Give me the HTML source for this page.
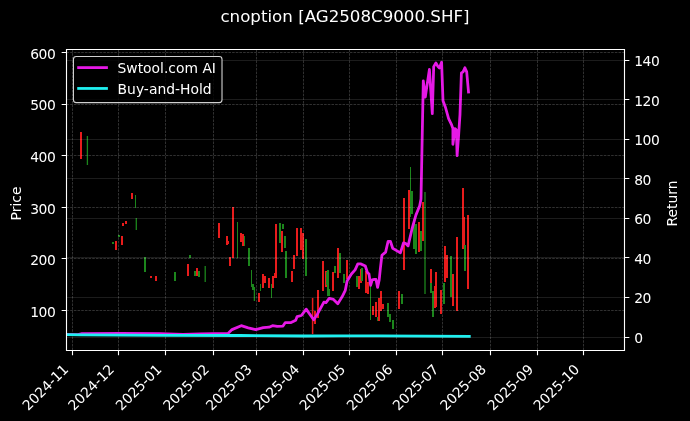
<!DOCTYPE html><html><head><meta charset="utf-8"><title>cnoption [AG2508C9000.SHF]</title><style>html,body{margin:0;padding:0;background:#000;overflow:hidden}svg{display:block}</style></head><body><svg width="690" height="421" viewBox="0 0 690 421">
<rect x="0" y="0" width="690" height="421" fill="#000"/>
<defs><clipPath id="ax"><rect x="66.5" y="49.5" width="558.0" height="301.0"/></clipPath></defs>
<g clip-path="url(#ax)">
<rect x="80" y="132" width="2.00" height="27" fill="#e81c1c"/>
<rect x="86.75" y="136" width="1.30" height="29" fill="#1c861c"/>
<rect x="112" y="242" width="2.00" height="2" fill="#1c861c"/>
<rect x="115" y="241" width="2.00" height="9" fill="#e81c1c"/>
<rect x="118" y="235" width="2.00" height="2" fill="#1c861c"/>
<rect x="121" y="236" width="2.00" height="9" fill="#e81c1c"/>
<rect x="122" y="223" width="2.00" height="3" fill="#e81c1c"/>
<rect x="125" y="221" width="2.00" height="3" fill="#e81c1c"/>
<rect x="131" y="193" width="2.00" height="6" fill="#e81c1c"/>
<rect x="135" y="195" width="1.00" height="13" fill="#1c861c"/>
<rect x="135.65" y="218" width="1.30" height="12" fill="#1c861c"/>
<rect x="144" y="257" width="2.00" height="15" fill="#1c861c"/>
<rect x="150" y="276" width="2.00" height="2" fill="#e81c1c"/>
<rect x="155" y="276" width="2.00" height="5" fill="#e81c1c"/>
<rect x="174" y="272" width="2.00" height="9" fill="#1c861c"/>
<rect x="187" y="264" width="2.00" height="12" fill="#e81c1c"/>
<rect x="189" y="255" width="2.00" height="3" fill="#1c861c"/>
<rect x="194" y="271" width="2.00" height="5" fill="#1c861c"/>
<rect x="196" y="268" width="2.00" height="8" fill="#e81c1c"/>
<rect x="198" y="271" width="2.00" height="6" fill="#1c861c"/>
<rect x="204.55" y="266" width="1.30" height="16" fill="#1c861c"/>
<rect x="218" y="223" width="2.00" height="15" fill="#e81c1c"/>
<rect x="226" y="236" width="2.00" height="9" fill="#e81c1c"/>
<rect x="227" y="241" width="2.00" height="3" fill="#e81c1c"/>
<rect x="232" y="207" width="2.00" height="51" fill="#e81c1c"/>
<rect x="229" y="257" width="2.00" height="9" fill="#e81c1c"/>
<rect x="237" y="222" width="1.00" height="36" fill="#1c861c"/>
<rect x="240" y="233" width="2.00" height="9" fill="#e81c1c"/>
<rect x="242" y="234" width="2.00" height="12" fill="#e81c1c"/>
<rect x="244" y="236" width="1.00" height="10" fill="#1c861c"/>
<rect x="248" y="248" width="2.00" height="18" fill="#1c861c"/>
<rect x="251" y="270" width="1.00" height="17" fill="#1c861c"/>
<rect x="252" y="284" width="2.00" height="6" fill="#1c861c"/>
<rect x="253.75" y="287" width="1.30" height="14" fill="#1c861c"/>
<rect x="258" y="293" width="2.00" height="9" fill="#e81c1c"/>
<rect x="260" y="284" width="1.00" height="7" fill="#1c861c"/>
<rect x="262" y="274" width="2.00" height="14" fill="#e81c1c"/>
<rect x="264" y="276" width="2.00" height="7" fill="#e81c1c"/>
<rect x="268" y="278" width="2.00" height="10" fill="#e81c1c"/>
<rect x="271" y="284" width="1.00" height="14" fill="#1c861c"/>
<rect x="272" y="276" width="2.00" height="12" fill="#e81c1c"/>
<rect x="274" y="273" width="2.00" height="5" fill="#e81c1c"/>
<rect x="275" y="224" width="2.00" height="54" fill="#e81c1c"/>
<rect x="279" y="223" width="2.00" height="20" fill="#1c861c"/>
<rect x="281" y="231" width="2.00" height="21" fill="#e81c1c"/>
<rect x="282" y="224" width="2.00" height="5" fill="#1c861c"/>
<rect x="284" y="236" width="2.00" height="12" fill="#1c861c"/>
<rect x="285" y="251" width="2.00" height="27" fill="#1c861c"/>
<rect x="291" y="271" width="2.00" height="11" fill="#e81c1c"/>
<rect x="293" y="255" width="2.00" height="14" fill="#e81c1c"/>
<rect x="296" y="228" width="2.00" height="28" fill="#e81c1c"/>
<rect x="300" y="228" width="2.00" height="22" fill="#e81c1c"/>
<rect x="302" y="233" width="2.00" height="26" fill="#e81c1c"/>
<rect x="305" y="239" width="2.00" height="37" fill="#1c861c"/>
<rect x="311.85" y="298" width="1.50" height="36" fill="#e81c1c"/>
<rect x="314" y="311" width="2.00" height="13" fill="#e81c1c"/>
<rect x="317" y="290" width="2.00" height="28" fill="#e81c1c"/>
<rect x="322" y="261" width="2.00" height="30" fill="#e81c1c"/>
<rect x="325" y="271" width="2.00" height="16" fill="#e81c1c"/>
<rect x="326" y="272" width="2.00" height="13" fill="#1c861c"/>
<rect x="327" y="270" width="2.00" height="26" fill="#1c861c"/>
<rect x="328" y="289" width="2.00" height="7" fill="#1c861c"/>
<rect x="332" y="272" width="2.00" height="19" fill="#e81c1c"/>
<rect x="334" y="266" width="2.00" height="7" fill="#1c861c"/>
<rect x="337" y="248" width="2.00" height="30" fill="#e81c1c"/>
<rect x="339" y="253" width="2.00" height="20" fill="#1c861c"/>
<rect x="343" y="274" width="2.00" height="9" fill="#1c861c"/>
<rect x="346" y="260" width="2.00" height="19" fill="#e81c1c"/>
<rect x="356" y="276" width="2.00" height="11" fill="#1c861c"/>
<rect x="358" y="276" width="2.00" height="13" fill="#e81c1c"/>
<rect x="360" y="269" width="2.00" height="14" fill="#e81c1c"/>
<rect x="361" y="268" width="2.00" height="13" fill="#1c861c"/>
<rect x="365" y="271" width="2.00" height="22" fill="#e81c1c"/>
<rect x="367" y="282" width="2.00" height="12" fill="#e81c1c"/>
<rect x="370" y="285" width="1.00" height="35" fill="#1c861c"/>
<rect x="372" y="306" width="2.00" height="9" fill="#e81c1c"/>
<rect x="375" y="302" width="2.00" height="15" fill="#e81c1c"/>
<rect x="377" y="317" width="2.00" height="4" fill="#1c861c"/>
<rect x="378" y="298" width="2.00" height="23" fill="#e81c1c"/>
<rect x="380" y="291" width="2.00" height="20" fill="#e81c1c"/>
<rect x="382" y="304" width="2.00" height="5" fill="#e81c1c"/>
<rect x="387" y="303" width="2.00" height="14" fill="#1c861c"/>
<rect x="389" y="314" width="2.00" height="8" fill="#1c861c"/>
<rect x="392" y="320" width="2.00" height="9" fill="#1c861c"/>
<rect x="398" y="291" width="2.00" height="18" fill="#e81c1c"/>
<rect x="401" y="294" width="2.00" height="10" fill="#1c861c"/>
<rect x="403" y="198" width="2.00" height="72" fill="#e81c1c"/>
<rect x="408" y="190" width="2.00" height="39" fill="#e81c1c"/>
<rect x="410" y="167" width="1.00" height="50" fill="#1c861c"/>
<rect x="411" y="191" width="2.00" height="23" fill="#1c861c"/>
<rect x="413" y="219" width="2.00" height="30" fill="#1c861c"/>
<rect x="415" y="224" width="2.00" height="30" fill="#1c861c"/>
<rect x="418" y="222" width="2.00" height="30" fill="#e81c1c"/>
<rect x="420" y="231" width="2.00" height="20" fill="#1c861c"/>
<rect x="422" y="202" width="2.00" height="39" fill="#e81c1c"/>
<rect x="424.35" y="192" width="1.30" height="102" fill="#1c861c"/>
<rect x="430" y="269" width="2.00" height="19" fill="#e81c1c"/>
<rect x="430" y="283" width="2.00" height="10" fill="#1c861c"/>
<rect x="432" y="291" width="2.00" height="26" fill="#1c861c"/>
<rect x="434" y="286" width="2.00" height="22" fill="#e81c1c"/>
<rect x="435" y="272" width="2.00" height="35" fill="#e81c1c"/>
<rect x="440" y="290" width="2.00" height="24" fill="#e81c1c"/>
<rect x="443" y="283" width="2.00" height="21" fill="#1c861c"/>
<rect x="444" y="246" width="2.00" height="36" fill="#e81c1c"/>
<rect x="446" y="255" width="2.00" height="23" fill="#e81c1c"/>
<rect x="450" y="256" width="2.00" height="41" fill="#1c861c"/>
<rect x="452" y="274" width="2.00" height="32" fill="#e81c1c"/>
<rect x="456" y="237" width="2.00" height="74" fill="#e81c1c"/>
<rect x="462" y="188" width="2.00" height="61" fill="#e81c1c"/>
<rect x="463" y="217" width="2.00" height="28" fill="#e81c1c"/>
<rect x="464" y="245" width="2.00" height="26" fill="#1c861c"/>
<rect x="467" y="215" width="2.00" height="74" fill="#e81c1c"/>
</g>
<path d="M72.5 49.5V350.5M118.5 49.5V350.5M165.5 49.5V350.5M213.5 49.5V350.5M256.5 49.5V350.5M303.5 49.5V350.5M349.5 49.5V350.5M396.5 49.5V350.5M442.5 49.5V350.5M490.5 49.5V350.5M537.5 49.5V350.5M583.5 49.5V350.5M66.5 310.5H624.5M66.5 258.5H624.5M66.5 207.5H624.5M66.5 155.5H624.5M66.5 104.5H624.5M66.5 52.5H624.5" stroke="#fff" stroke-opacity="0.19" stroke-width="1" stroke-dasharray="2.57 1.11" fill="none" clip-path="url(#ax)"/>
<g clip-path="url(#ax)"><polyline points="66.50,334.40 78.00,334.60 82.00,333.60 120.00,333.50 160.00,333.70 183.00,334.30 200.00,333.80 228.00,333.40 232.00,329.60 241.20,325.70 248.20,327.80 255.70,329.60 263.30,327.60 269.10,327.20 272.50,325.70 277.20,326.40 283.00,326.10 285.30,322.60 291.10,322.60 295.70,320.30 297.10,316.60 301.40,315.50 306.20,309.10 313.70,319.80 317.50,313.90 323.90,302.10 326.00,302.60 329.20,298.40 333.50,299.40 337.80,303.70 342.10,296.80 345.30,290.30 347.10,281.00 351.40,274.00 355.10,269.80 357.80,263.90 361.00,263.90 365.30,266.00 367.40,272.40 369.00,274.00 370.60,285.30 372.20,279.90 374.40,279.40 376.00,279.40 377.60,287.40 379.20,279.90 380.30,269.20 381.90,255.30 385.60,252.10 388.10,241.30 390.40,241.30 392.70,248.20 396.60,250.60 400.40,252.90 403.50,242.80 405.80,243.60 408.10,245.90 412.00,229.00 415.90,215.10 419.70,205.80 421.00,199.00 423.30,80.80 425.30,97.00 429.40,69.40 432.30,113.70 433.70,66.60 435.90,63.00 438.00,66.60 439.40,68.00 441.60,62.30 443.00,100.80 445.50,107.50 448.60,118.60 451.40,124.30 452.90,128.60 452.90,144.30 455.00,128.60 456.40,130.00 457.10,155.70 458.60,135.70 460.00,114.30 461.40,73.00 463.10,71.90 464.90,67.70 466.70,71.90 468.50,92.00" fill="none" stroke="#e619e6" stroke-width="2.78" stroke-linejoin="round" stroke-linecap="square"/>
<polyline points="66.50,334.60 80.00,334.90 160.00,335.30 240.00,335.50 305.00,336.00 340.00,335.80 380.00,335.80 469.30,336.30" fill="none" stroke="#1ef0f0" stroke-width="2.78" stroke-linejoin="round" stroke-linecap="square"/></g>
<path d="M66.5 337.5H624.5M66.5 297.5H624.5M66.5 257.5H624.5M66.5 218.5H624.5M66.5 178.5H624.5M66.5 139.5H624.5M66.5 99.5H624.5M66.5 60.5H624.5" stroke="#fff" stroke-opacity="0.11" stroke-width="1" fill="none"/>
<path d="M66.5 350.5V49.5M624.5 350.5V49.5M66.5 49.5H624.5M66.5 350.5H624.5" stroke="#fff" stroke-width="1.11" fill="none" stroke-linecap="square"/>
<path d="M72.5 350.5v4.86M118.5 350.5v4.86M165.5 350.5v4.86M213.5 350.5v4.86M256.5 350.5v4.86M303.5 350.5v4.86M349.5 350.5v4.86M396.5 350.5v4.86M442.5 350.5v4.86M490.5 350.5v4.86M537.5 350.5v4.86M583.5 350.5v4.86M66.5 310.5h-4.86M66.5 258.5h-4.86M66.5 207.5h-4.86M66.5 155.5h-4.86M66.5 104.5h-4.86M66.5 52.5h-4.86M624.5 337.5h4.86M624.5 297.5h4.86M624.5 257.5h4.86M624.5 218.5h4.86M624.5 178.5h4.86M624.5 139.5h4.86M624.5 99.5h4.86M624.5 60.5h4.86" stroke="#fff" stroke-width="1.11" fill="none"/>
<g style="font-size:13.889px;font-family:'DejaVu Sans','Bitstream Vera Sans',sans-serif;fill:#fff"><text transform="translate(28.22 411.22) rotate(-45)">2024-11</text><text transform="translate(74.12 411.22) rotate(-45)">2024-12</text><text transform="translate(121.55 411.22) rotate(-45)">2025-01</text><text transform="translate(168.97 411.22) rotate(-45)">2025-02</text><text transform="translate(211.81 411.22) rotate(-45)">2025-03</text><text transform="translate(259.24 411.22) rotate(-45)">2025-04</text><text transform="translate(305.13 411.22) rotate(-45)">2025-05</text><text transform="translate(352.56 411.22) rotate(-45)">2025-06</text><text transform="translate(398.46 411.22) rotate(-45)">2025-07</text><text transform="translate(445.89 411.22) rotate(-45)">2025-08</text><text transform="translate(493.31 411.22) rotate(-45)">2025-09</text><text transform="translate(539.21 411.22) rotate(-45)">2025-10</text><text x="55.3" y="316.73" text-anchor="end" letter-spacing="-0.45">100</text><text x="55.3" y="265.15" text-anchor="end" letter-spacing="-0.45">200</text><text x="55.3" y="213.57" text-anchor="end" letter-spacing="-0.45">300</text><text x="55.3" y="161.99" text-anchor="end" letter-spacing="-0.45">400</text><text x="55.3" y="110.41" text-anchor="end" letter-spacing="-0.45">500</text><text x="55.3" y="58.83" text-anchor="end" letter-spacing="-0.45">600</text><text x="634.22" y="343.03" letter-spacing="-0.45">0</text><text x="634.22" y="303.45" letter-spacing="-0.45">20</text><text x="634.22" y="263.87" letter-spacing="-0.45">40</text><text x="634.22" y="224.30" letter-spacing="-0.45">60</text><text x="634.22" y="184.72" letter-spacing="-0.45">80</text><text x="634.22" y="145.14" letter-spacing="-0.45">100</text><text x="634.22" y="105.56" letter-spacing="-0.45">120</text><text x="634.22" y="65.98" letter-spacing="-0.45">140</text><text transform="translate(20.82 203.5) rotate(-90)" text-anchor="middle">Price</text><text transform="translate(676.84 203.5) rotate(-90)" text-anchor="middle">Return</text></g>
<text x="345" y="22.1" text-anchor="middle" style="font-size:16.667px;font-family:'DejaVu Sans','Bitstream Vera Sans',sans-serif;fill:#fff">cnoption [AG2508C9000.SHF]</text>
<rect x="73.44" y="56.44" width="148.57" height="46.16" rx="2.78" ry="2.78" fill="#000" fill-opacity="0.8" stroke="#d0d0d0" stroke-width="1.11"/>
<path d="M78.6 67.6H106.5" stroke="#e619e6" stroke-width="2.78" stroke-linecap="square"/>
<path d="M78.6 88.45H106.5" stroke="#1ef0f0" stroke-width="2.78" stroke-linecap="square"/>
<g style="font-size:13.889px;font-family:'DejaVu Sans','Bitstream Vera Sans',sans-serif;fill:#fff"><text x="117.5" y="72.55">Swtool.com AI</text><text x="117.6" y="94.1">Buy-and-Hold</text></g>
</svg></body></html>
